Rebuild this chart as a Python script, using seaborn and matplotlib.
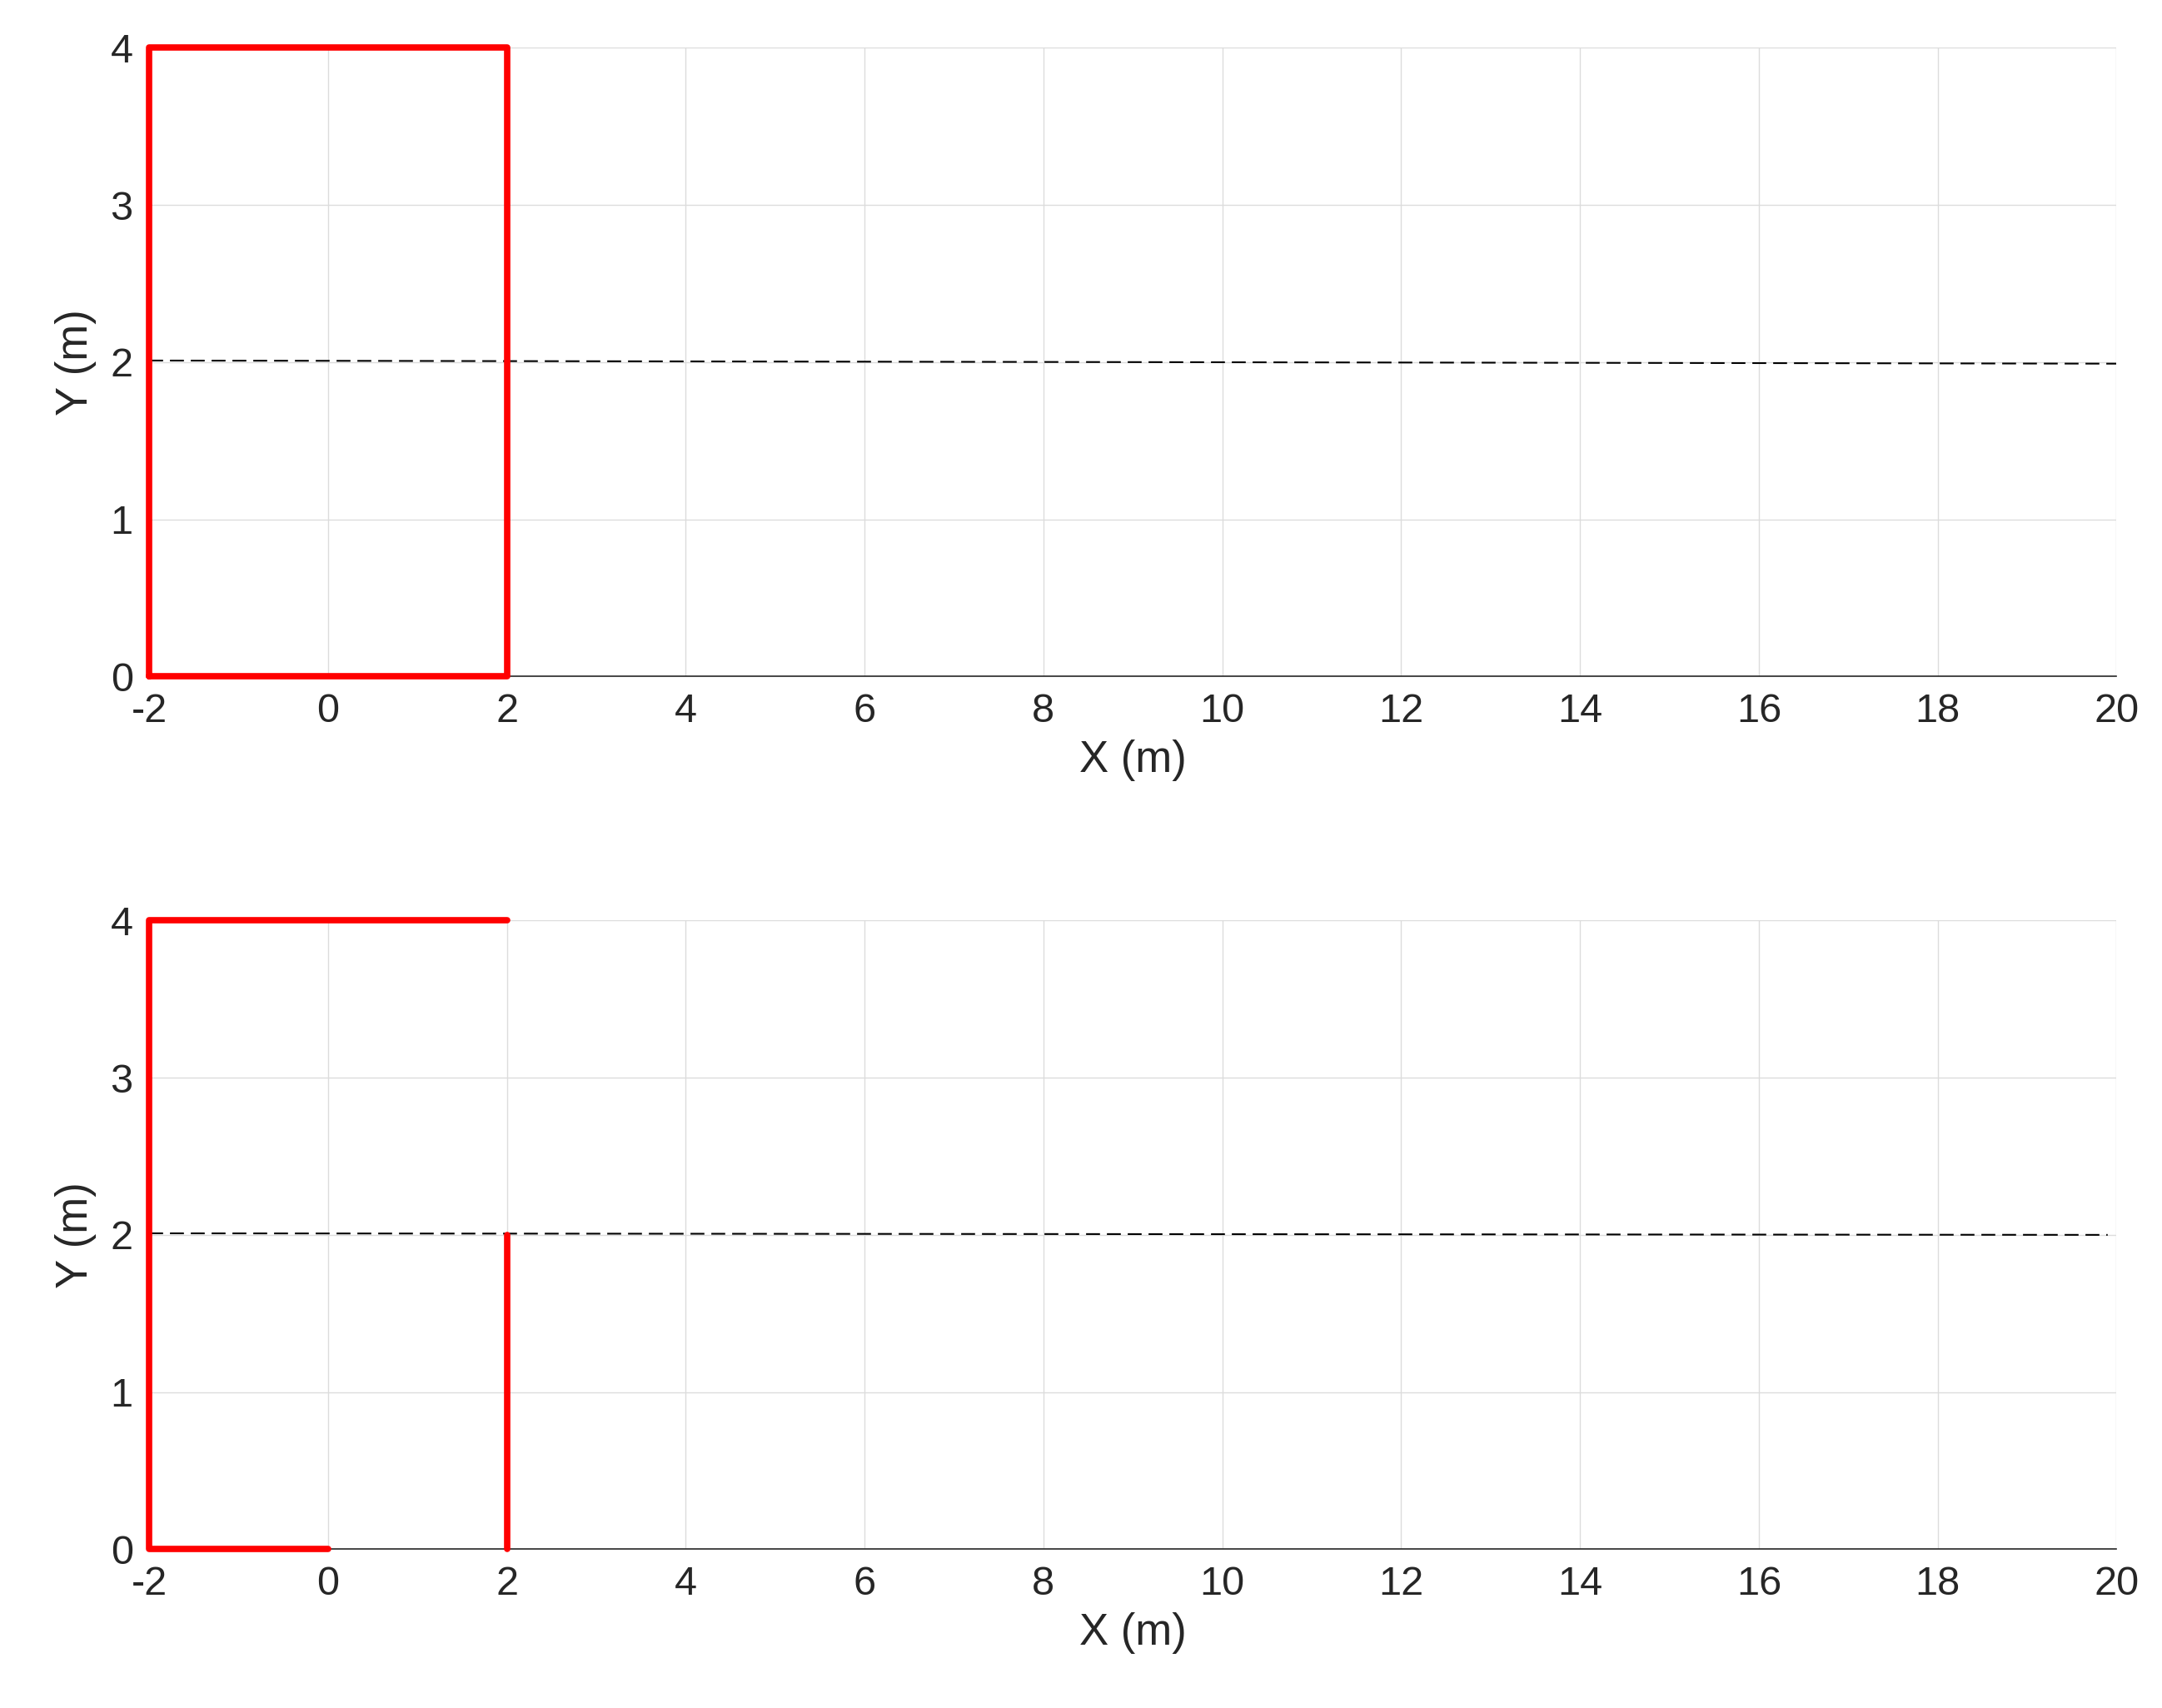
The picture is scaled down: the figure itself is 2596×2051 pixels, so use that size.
import matplotlib
matplotlib.use("Agg")
import matplotlib.pyplot as plt
import seaborn as sns
import pandas as pd

sns.set_theme(style="white")
plt.rcParams['font.family'] = ['Liberation Sans', 'DejaVu Sans']
plt.rcParams['axes.unicode_minus'] = False

# data
top_red_x = [-2, -2, 2, 2, -2]
top_red_y = [0, 4, 4, 0, 0]
bot_red1_x = [0, -2, -2, 2]
bot_red1_y = [0, 0, 4, 4]
bot_red2_x = [2, 2]
bot_red2_y = [0, 2]
top_dash_x = [-2, 20]
top_dash_y = [2.01, 1.99]
bot_dash_x = [-2, 19.9]
bot_dash_y = [2.01, 2.0]
xticks = list(range(-2, 21, 2))
yticks = [0, 1, 2, 3, 4]

fig = plt.figure(figsize=(25.96, 20.51), dpi=100)
ax1 = fig.add_axes([0.069, 0.604, 0.910, 0.368])
ax2 = fig.add_axes([0.069, 0.093, 0.910, 0.368])

def draw(ax, reds, dash):
    for xs, ys in reds:
        sns.lineplot(x=xs, y=ys, ax=ax, sort=False, estimator=None, color='#ff0000',
                     linewidth=5.5, clip_on=False, zorder=5)
    sns.lineplot(x=dash[0], y=dash[1], ax=ax, sort=False, estimator=None, color='black',
                 linewidth=1.5, linestyle=(0, (8, 4)), zorder=4)
    ax.set_xlim(-2, 20)
    ax.set_ylim(0, 4)
    ax.set_xticks(xticks)
    ax.set_yticks(yticks)
    ax.grid(True, color='#dcdcdc', linewidth=1)
    ax.set_axisbelow(True)
    ax.spines['top'].set_visible(False)
    ax.spines['right'].set_visible(False)
    for s in ['left', 'bottom']:
        ax.spines[s].set_color('#262626')
        ax.spines[s].set_linewidth(1.2)
    ax.tick_params(direction='in', length=10, width=1.2, labelsize=35, colors='#262626', pad=14)
    ax.set_xlabel('X (m)', fontsize=38, color='#262626', labelpad=8)
    ax.set_ylabel('Y (m)', fontsize=38, color='#262626', labelpad=12)

draw(ax1, [(top_red_x, top_red_y)], (top_dash_x, top_dash_y))
draw(ax2, [(bot_red1_x, bot_red1_y), (bot_red2_x, bot_red2_y)], (bot_dash_x, bot_dash_y))

fig.savefig('out.png', dpi=100)
